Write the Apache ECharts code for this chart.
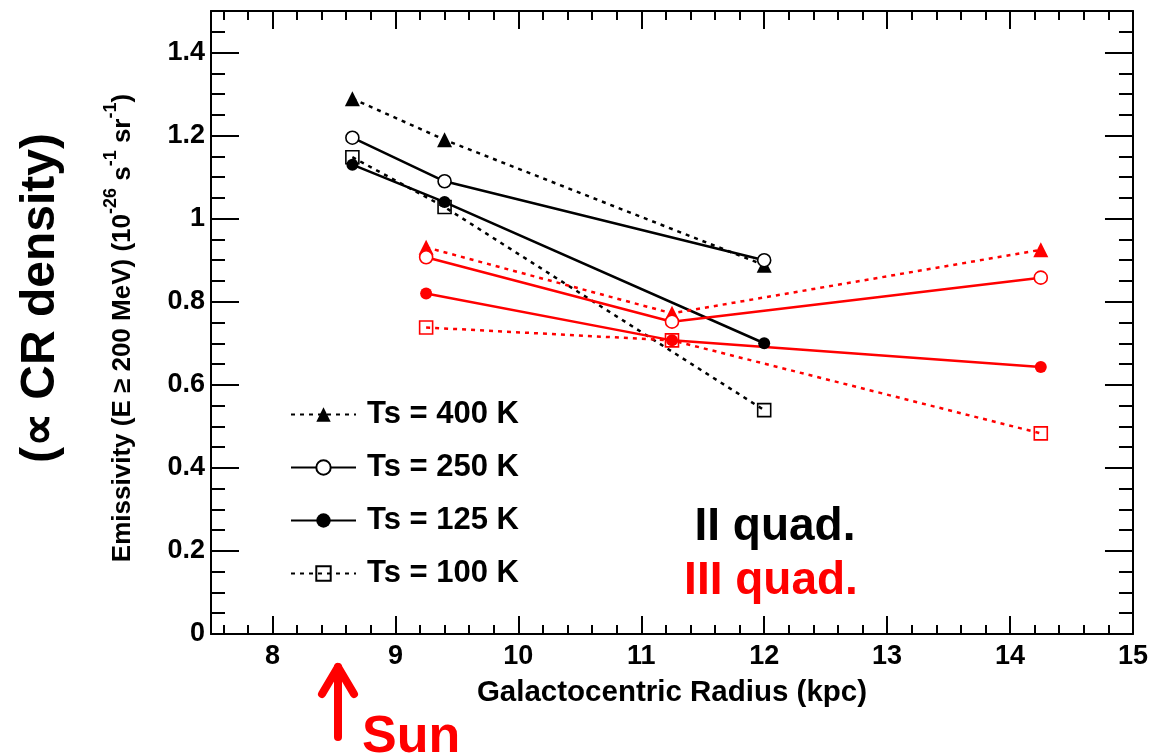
<!DOCTYPE html>
<html>
<head>
<meta charset="utf-8">
<script src="https://cdn.jsdelivr.net/npm/echarts@6/dist/echarts.min.js"></script>
<style>
  html, body { margin: 0; padding: 0; background: #ffffff; }
  #chart { width: 1151px; height: 756px; }
</style>
</head>
<body>
<div id="chart"></div>
<script>
// Gas emissivity versus Galactocentric radius for four spin temperatures
const FONT = '"Liberation Sans", Arial, Helvetica, sans-serif';
const RED = '#ff0000';

const seriesNames = ['Ts = 400 K', 'Ts = 250 K', 'Ts = 125 K', 'Ts = 100 K'];

// II quadrant (black)
const radiusII = [8.65, 9.4, 12.0];
const ts400II = [1.289, 1.190, 0.888];
const ts250II = [1.195, 1.090, 0.900];
const ts125II = [1.130, 1.040, 0.700];
const ts100II = [1.148, 1.028, 0.539];

// III quadrant (red)
const radiusIII = [9.25, 11.25, 14.25];
const ts400III = [0.931, 0.772, 0.925];
const ts250III = [0.907, 0.752, 0.858];
const ts125III = [0.820, 0.707, 0.643];
const ts100III = [0.738, 0.707, 0.483];

// axis ticks and labels
const xMajorTicks = [8, 9, 10, 11, 12, 13, 14, 15];
const yMajorTicks = [0, 0.2, 0.4, 0.6, 0.8, 1, 1.2, 1.4];
const xMinorTicks = [7.6, 7.8, 8.2, 8.4, 8.6, 8.8, 9.2, 9.4, 9.6, 9.8, 10.2, 10.4, 10.6, 10.8,
  11.2, 11.4, 11.6, 11.8, 12.2, 12.4, 12.6, 12.8, 13.2, 13.4, 13.6, 13.8, 14.2, 14.4, 14.6, 14.8];
const yMinorTicks = [0.05, 0.1, 0.15, 0.25, 0.3, 0.35, 0.45, 0.5, 0.55, 0.65, 0.7, 0.75, 0.85, 0.9, 0.95,
  1.05, 1.1, 1.15, 1.25, 1.3, 1.35, 1.45];

const X_MIN = 7.5, X_MAX = 15, Y_MIN = 0, Y_MAX = 1.5;

function xAxisDef(position, ticks, length, withLabels, withLine) {
  return {
    type: 'value', position: position, min: X_MIN, max: X_MAX,
    axisLine: { show: withLine, onZero: false, lineStyle: { color: '#000', width: 2 } },
    axisTick: { show: true, inside: true, length: length, customValues: ticks,
      lineStyle: { color: '#000', width: 2 } },
    axisLabel: withLabels ? {
      show: true, customValues: xMajorTicks, margin: 9,
      color: '#000', fontFamily: FONT, fontWeight: 'bold', fontSize: 27
    } : { show: false },
    splitLine: { show: false },
    name: withLabels ? 'Galactocentric Radius (kpc)' : '',
    nameLocation: 'middle', nameGap: 44,
    nameTextStyle: { color: '#000', fontFamily: FONT, fontWeight: 'bold', fontSize: 29.5 }
  };
}

function yAxisDef(position, ticks, length, withLabels, withLine) {
  return {
    type: 'value', position: position, min: Y_MIN, max: Y_MAX,
    axisLine: { show: withLine, onZero: false, lineStyle: { color: '#000', width: 2 } },
    axisTick: { show: true, inside: true, length: length, customValues: ticks,
      lineStyle: { color: '#000', width: 2 } },
    axisLabel: withLabels ? {
      show: true, customValues: yMajorTicks, margin: 6,
      color: '#000', fontFamily: FONT, fontWeight: 'bold', fontSize: 27
    } : { show: false },
    splitLine: { show: false }
  };
}

function pairs(xs, ys) {
  return xs.map(function (x, i) { return [x, ys[i]]; });
}

const DOTTED = [4, 5];

function makeSeries(name, xs, ys, color, kind) {
  const s = {
    name: name, type: 'line', data: pairs(xs, ys),
    xAxisIndex: 0, yAxisIndex: 0,
    showSymbol: true, animation: false, silent: true,
    lineStyle: { color: color, width: 2.5, type: 'solid' },
    itemStyle: { color: color, borderColor: color, borderWidth: 0 },
    emphasis: { disabled: true }
  };
  if (kind === 'triangle') {
    s.symbol = 'triangle'; s.symbolSize = 15;
    s.lineStyle.type = DOTTED;
  } else if (kind === 'openCircle') {
    s.symbol = 'circle'; s.symbolSize = 13;
    s.itemStyle = { color: '#ffffff', borderColor: color, borderWidth: 1.6 };
  } else if (kind === 'filledCircle') {
    s.symbol = 'circle'; s.symbolSize = 12;
  } else if (kind === 'openSquare') {
    s.symbol = 'rect'; s.symbolSize = 13;
    s.lineStyle.type = DOTTED;
    s.itemStyle = { color: 'rgba(255,255,255,0)', borderColor: color, borderWidth: 1.6 };
  }
  return s;
}

const series = [
  makeSeries(seriesNames[0], radiusII, ts400II, '#000', 'triangle'),
  makeSeries(seriesNames[1], radiusII, ts250II, '#000', 'openCircle'),
  makeSeries(seriesNames[2], radiusII, ts125II, '#000', 'filledCircle'),
  makeSeries(seriesNames[3], radiusII, ts100II, '#000', 'openSquare'),
  makeSeries(seriesNames[0], radiusIII, ts400III, RED, 'triangle'),
  makeSeries(seriesNames[1], radiusIII, ts250III, RED, 'openCircle'),
  makeSeries(seriesNames[2], radiusIII, ts125III, RED, 'filledCircle'),
  makeSeries(seriesNames[3], radiusIII, ts100III, RED, 'openSquare')
];

const chart = echarts.init(document.getElementById('chart'), null, { renderer: 'canvas' });

chart.setOption({
  backgroundColor: '#ffffff',
  animation: false,
  grid: { left: 211, top: 11, width: 924, height: 623, containLabel: false },
  xAxis: [
    xAxisDef('bottom', xMajorTicks, 18, true, true),
    xAxisDef('bottom', xMinorTicks, 9, false, false),
    xAxisDef('top', xMajorTicks, 18, false, true),
    xAxisDef('top', xMinorTicks, 9, false, false)
  ],
  yAxis: [
    yAxisDef('left', yMajorTicks, 28, true, true),
    yAxisDef('left', yMinorTicks, 14, false, false),
    yAxisDef('right', yMajorTicks, 28, false, true),
    yAxisDef('right', yMinorTicks, 14, false, false)
  ],
  legend: {
    show: true, orient: 'vertical', left: 285, top: 394,
    data: seriesNames,
    itemWidth: 65, itemHeight: 18, itemGap: 22,
    selectedMode: false,
    textStyle: { color: '#000', fontFamily: FONT, fontWeight: 'bold', fontSize: 31,
      lineHeight: 30, padding: [0, 0, 0, 6] }
  },
  series: series,
  graphic: [
    {
      type: 'text', x: 41, y: 298, rotation: Math.PI / 2, silent: true,
      style: { text: '(\u221D CR density)', fill: '#000', font: 'bold 48px ' + FONT,
        align: 'center', verticalAlign: 'middle' }
    },
    {
      type: 'text', x: 119, y: 328, rotation: Math.PI / 2, silent: true,
      style: {
        text: '{m|Emissivity (E \u2265 200 MeV) (10}{s|-26}{m| s}{s|-1}{m| sr}{s|-1}{m|)}',
        align: 'center', verticalAlign: 'middle',
        rich: {
          m: { fill: '#000', fontFamily: FONT, fontWeight: 'bold', fontSize: 26, lineHeight: 34, verticalAlign: 'bottom' },
          s: { fill: '#000', fontFamily: FONT, fontWeight: 'bold', fontSize: 18, lineHeight: 18, verticalAlign: 'top' }
        }
      }
    },
    {
      type: 'text', x: 775, y: 527, silent: true,
      style: { text: 'II quad.', fill: '#000', font: 'bold 46px ' + FONT,
        align: 'center', verticalAlign: 'middle' }
    },
    {
      type: 'text', x: 771, y: 581, silent: true,
      style: { text: 'III quad.', fill: RED, font: 'bold 46px ' + FONT,
        align: 'center', verticalAlign: 'middle' }
    },
    {
      type: 'polyline', silent: true,
      shape: { points: [[338, 737], [338, 667]] },
      style: { stroke: RED, lineWidth: 8, lineCap: 'round', fill: null }
    },
    {
      type: 'polyline', silent: true,
      shape: { points: [[322, 694], [338, 667], [354, 694]] },
      style: { stroke: RED, lineWidth: 8, lineCap: 'round', lineJoin: 'round', fill: null }
    },
    {
      type: 'text', x: 362, y: 738, silent: true,
      style: { text: 'Sun', fill: RED, font: 'bold 52px ' + FONT,
        align: 'left', verticalAlign: 'middle' }
    }
  ]
});
</script>
</body>
</html>
